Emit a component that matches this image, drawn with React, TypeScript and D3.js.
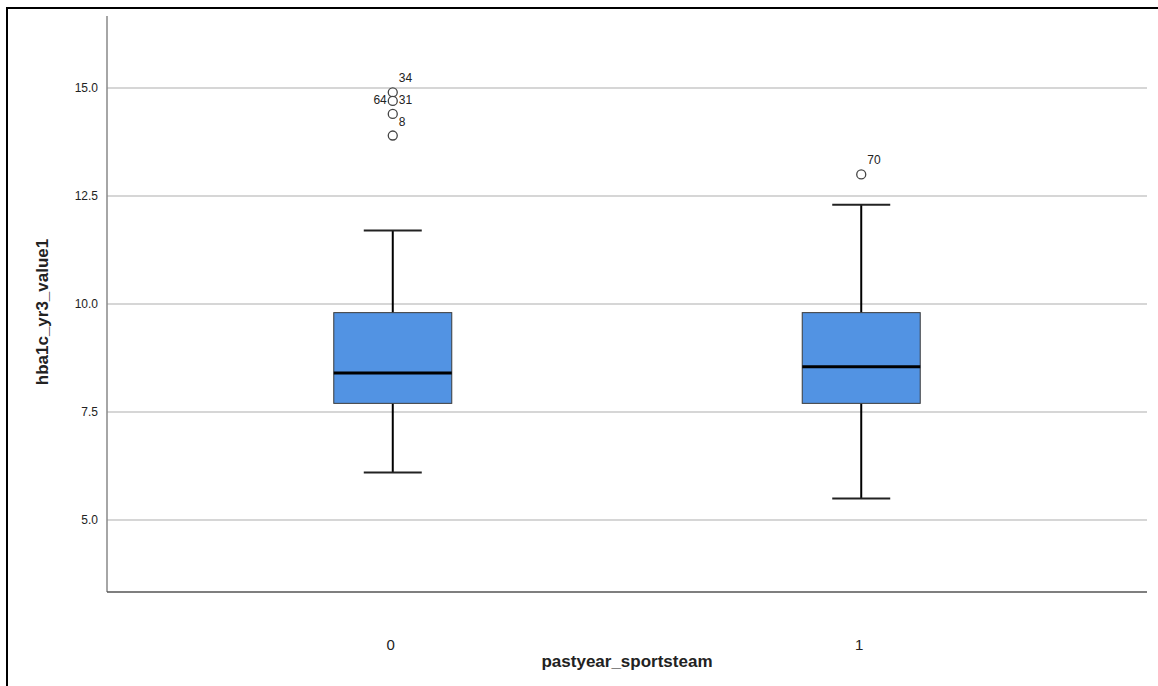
import React, { useEffect, useRef } from 'react';
import * as d3 from 'd3';

const groups = ['0', '1'];
const q1 = [7.7, 7.7];
const median = [8.4, 8.55];
const q3 = [9.8, 9.8];
const whiskerLow = [6.1, 5.5];
const whiskerHigh = [11.7, 12.3];

const outlierGroup = ['0', '0', '0', '0', '1'];
const outlierValue = [14.9, 14.7, 14.4, 13.9, 13.0];

// case labels next to the outliers
const labelGroup = ['0', '0', '0', '0', '1'];
const labelValue = [14.9, 14.4, 14.4, 13.9, 13.0];
const labelText = ['34', '64', '31', '8', '70'];
const labelSide = ['right', 'left', 'right', 'right', 'right'];

const yTicks = [5.0, 7.5, 10.0, 12.5, 15.0];

export default function App() {
  const svgRef = useRef<SVGSVGElement>(null);

  useEffect(() => {
    if (!svgRef.current) return;
    d3.select(svgRef.current).selectAll('*').remove();

    const svg = d3.select(svgRef.current);
    const left = 107;
    const right = 1147;
    const top = 16;
    const bottom = 592;

    const x = d3.scalePoint<string>().domain(groups).range([left, right]).padding(0.61);
    const y = d3.scaleLinear().domain([3.3333, 16.6667]).range([bottom, top]);

    // outer frame
    svg.append('rect')
      .attr('x', 7)
      .attr('y', 8)
      .attr('width', 1200)
      .attr('height', 720)
      .attr('fill', 'white')
      .attr('stroke', '#000')
      .attr('stroke-width', 2);

    // gridlines
    svg.append('g')
      .selectAll('line')
      .data(yTicks)
      .enter()
      .append('line')
      .attr('x1', left)
      .attr('x2', right)
      .attr('y1', (d) => y(d))
      .attr('y2', (d) => y(d))
      .attr('stroke', '#c8c8c8')
      .attr('stroke-width', 1.5);

    // y tick labels
    svg.append('g')
      .selectAll('text')
      .data(yTicks)
      .enter()
      .append('text')
      .attr('x', left - 9)
      .attr('y', (d) => y(d))
      .attr('dy', '0.35em')
      .attr('text-anchor', 'end')
      .attr('font-family', 'Liberation Sans, Arial, sans-serif')
      .attr('font-size', 12)
      .attr('fill', '#222')
      .text((d) => d.toFixed(1));

    // axes
    svg.append('line')
      .attr('x1', left).attr('x2', left)
      .attr('y1', top).attr('y2', bottom)
      .attr('stroke', '#888').attr('stroke-width', 1.5);
    svg.append('line')
      .attr('x1', left).attr('x2', right)
      .attr('y1', bottom).attr('y2', bottom)
      .attr('stroke', '#555').attr('stroke-width', 1.5);

    const boxW = 118;
    const capW = 58;
    const idx = d3.range(groups.length);

    // boxes and whiskers
    idx.forEach((i) => {
      const cx = x(groups[i])!;
      const g = svg.append('g');
      g.append('line')
        .attr('x1', cx).attr('x2', cx)
        .attr('y1', y(q3[i])).attr('y2', y(whiskerHigh[i]))
        .attr('stroke', '#000').attr('stroke-width', 2);
      g.append('line')
        .attr('x1', cx).attr('x2', cx)
        .attr('y1', y(q1[i])).attr('y2', y(whiskerLow[i]))
        .attr('stroke', '#000').attr('stroke-width', 2);
      [whiskerHigh[i], whiskerLow[i]].forEach((v) => {
        g.append('line')
          .attr('x1', cx - capW / 2).attr('x2', cx + capW / 2)
          .attr('y1', y(v)).attr('y2', y(v))
          .attr('stroke', '#222').attr('stroke-width', 2);
      });
      g.append('rect')
        .attr('x', cx - boxW / 2)
        .attr('y', y(q3[i]))
        .attr('width', boxW)
        .attr('height', y(q1[i]) - y(q3[i]))
        .attr('fill', '#5293E3')
        .attr('stroke', '#3a3a3a')
        .attr('stroke-width', 1);
      g.append('line')
        .attr('x1', cx - boxW / 2).attr('x2', cx + boxW / 2)
        .attr('y1', y(median[i])).attr('y2', y(median[i]))
        .attr('stroke', '#000').attr('stroke-width', 3);
    });

    // outliers
    svg.append('g')
      .selectAll('circle')
      .data(outlierValue)
      .enter()
      .append('circle')
      .attr('cx', (_d, i) => x(outlierGroup[i])!)
      .attr('cy', (d) => y(d))
      .attr('r', 4.5)
      .attr('fill', 'white')
      .attr('stroke', '#444')
      .attr('stroke-width', 1.3);

    svg.append('g')
      .selectAll('text')
      .data(labelText)
      .enter()
      .append('text')
      .attr('x', (_d, i) => x(labelGroup[i])! + (labelSide[i] === 'right' ? 6 : -6))
      .attr('y', (_d, i) => y(labelValue[i]) - 10)
      .attr('text-anchor', (_d, i) => (labelSide[i] === 'right' ? 'start' : 'end'))
      .attr('font-family', 'Liberation Sans, Arial, sans-serif')
      .attr('font-size', 12)
      .attr('fill', '#222')
      .text((d) => d);

    // x tick labels
    svg.append('g')
      .selectAll('text')
      .data(groups)
      .enter()
      .append('text')
      .attr('x', (d) => x(d)! - 2)
      .attr('y', 650)
      .attr('text-anchor', 'middle')
      .attr('font-family', 'Liberation Sans, Arial, sans-serif')
      .attr('font-size', 15)
      .attr('fill', '#222')
      .text((d) => d);

    // axis titles
    svg.append('text')
      .attr('x', (left + right) / 2)
      .attr('y', 667)
      .attr('text-anchor', 'middle')
      .attr('font-family', 'Liberation Sans, Arial, sans-serif')
      .attr('font-size', 17)
      .attr('font-weight', 'bold')
      .attr('fill', '#222')
      .text('pastyear_sportsteam');

    svg.append('text')
      .attr('transform', `translate(48,${(top + bottom) / 2 + 8}) rotate(-90)`)
      .attr('text-anchor', 'middle')
      .attr('font-family', 'Liberation Sans, Arial, sans-serif')
      .attr('font-size', 17)
      .attr('font-weight', 'bold')
      .attr('fill', '#222')
      .text('hba1c_yr3_value1');
  }, []);

  return (
    <svg
      ref={svgRef}
      width={1158}
      height={686}
      style={{ position: 'absolute', left: 0, top: 0, background: 'white' }}
    ></svg>
  );
}
